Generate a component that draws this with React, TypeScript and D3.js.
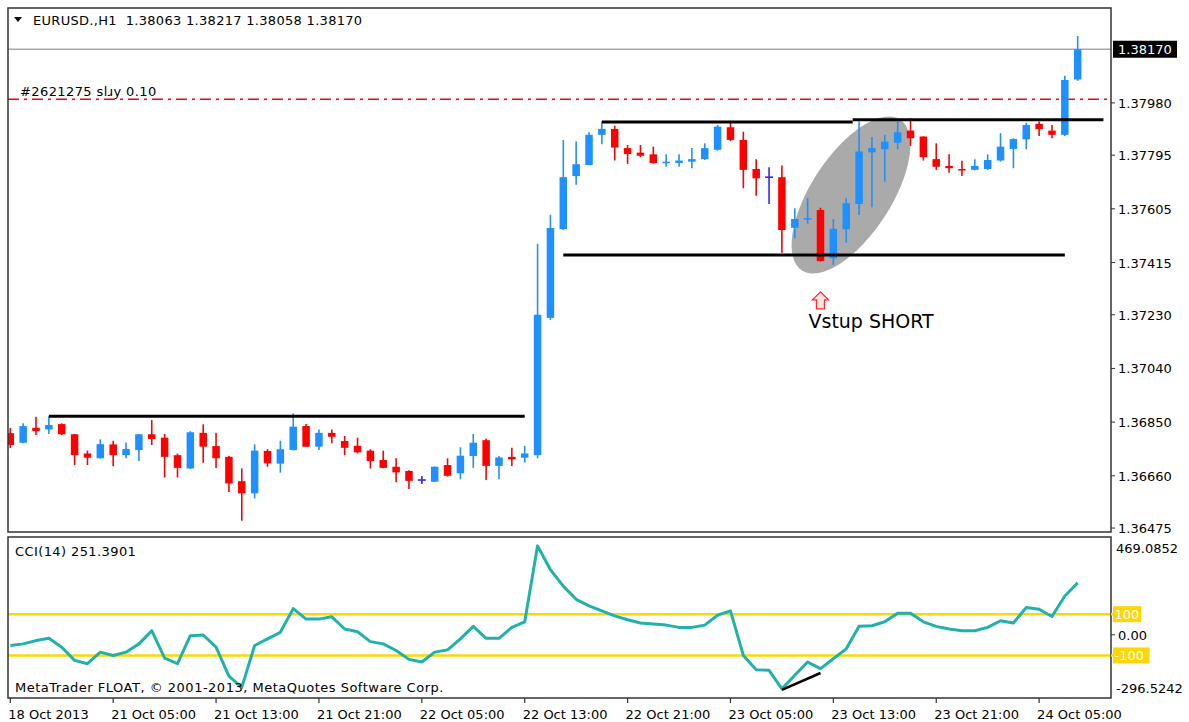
import React from "react";
import * as d3 from "d3";

// EURUSD H1 bars, left to right
const opens = [
  1.36811, 1.36777, 1.3683, 1.36824, 1.36843, 1.36807, 1.36739, 1.36722, 1.36771, 1.36733,
  1.36751, 1.36807, 1.36795, 1.36733, 1.36686, 1.36812, 1.36765, 1.36727, 1.36641, 1.36598,
  1.36748, 1.36703, 1.36751, 1.36836, 1.36763, 1.36812, 1.36783, 1.36766, 1.36749, 1.36716,
  1.36692, 1.36677, 1.36645, 1.36639, 1.36698, 1.36669, 1.3673, 1.36786, 1.36695, 1.36727,
  1.36724, 1.36733, 1.37219, 1.37533, 1.37721, 1.3776, 1.37867, 1.37888, 1.3782, 1.37804,
  1.37798, 1.37767, 1.37767, 1.37772, 1.37781, 1.37814, 1.37894, 1.37849, 1.37746, 1.37717,
  1.37717, 1.37538, 1.37568, 1.37601, 1.3743, 1.37533, 1.37622, 1.37805, 1.37816, 1.37839,
  1.37882, 1.37861, 1.37781, 1.37757, 1.37746, 1.37743, 1.37746, 1.37776, 1.37817, 1.37851,
  1.37906, 1.37882, 1.37867, 1.38063,
];
const highs = [
  1.36829, 1.36846, 1.36869, 1.36871, 1.36846, 1.36808, 1.36749, 1.36789, 1.36784, 1.36778,
  1.36808, 1.36857, 1.36808, 1.36739, 1.36818, 1.36842, 1.36812, 1.3673, 1.36686, 1.36771,
  1.36754, 1.36784, 1.36881, 1.36843, 1.36824, 1.36824, 1.36801, 1.36795, 1.36754, 1.36749,
  1.36722, 1.3668, 1.36659, 1.36693, 1.36722, 1.36761, 1.36808, 1.36792, 1.3673, 1.36759,
  1.36766, 1.37481, 1.37584, 1.37849, 1.37843, 1.37876, 1.37914, 1.37899, 1.37831, 1.37831,
  1.37825, 1.37798, 1.37798, 1.3782, 1.37837, 1.37902, 1.37917, 1.37878, 1.37781, 1.37752,
  1.37758, 1.37607, 1.37643, 1.37609, 1.37569, 1.37643, 1.37914, 1.37859, 1.37867, 1.37914,
  1.37926, 1.37862, 1.37837, 1.37798, 1.37775, 1.37781, 1.37798, 1.37873, 1.37855, 1.3791,
  1.37914, 1.37902, 1.38076, 1.38217,
];
const lows = [
  1.36758, 1.36775, 1.36804, 1.36808, 1.36804, 1.36698, 1.36698, 1.36721, 1.36694, 1.36722,
  1.36712, 1.36769, 1.36654, 1.36654, 1.36684, 1.36706, 1.36688, 1.36603, 1.36501, 1.3658,
  1.36692, 1.36671, 1.3675, 1.36762, 1.36751, 1.36775, 1.36733, 1.36739, 1.36686, 1.36687,
  1.36637, 1.36613, 1.36631, 1.36638, 1.36657, 1.36648, 1.36688, 1.36645, 1.36648, 1.36695,
  1.36707, 1.36722, 1.37212, 1.37531, 1.3769, 1.37759, 1.37834, 1.37776, 1.37764, 1.37788,
  1.37766, 1.37754, 1.37754, 1.37749, 1.37778, 1.37811, 1.37845, 1.37678, 1.37651, 1.37622,
  1.3745, 1.37501, 1.37552, 1.37418, 1.37406, 1.37485, 1.37583, 1.37611, 1.37701, 1.37816,
  1.37828, 1.37776, 1.37743, 1.37733, 1.37721, 1.37742, 1.37743, 1.37772, 1.37749, 1.37816,
  1.37863, 1.37855, 1.37863, 1.38058,
];
const closes = [
  1.36769, 1.36836, 1.36818, 1.3684, 1.36807, 1.36733, 1.36724, 1.36772, 1.36733, 1.36755,
  1.36807, 1.3679, 1.36727, 1.36688, 1.36814, 1.36763, 1.36722, 1.36633, 1.36598, 1.36749,
  1.36704, 1.36754, 1.36834, 1.36763, 1.36812, 1.36798, 1.36759, 1.36743, 1.36712, 1.36688,
  1.36672, 1.36642, 1.36645, 1.36692, 1.3666, 1.36731, 1.36777, 1.36695, 1.36725, 1.36718,
  1.36739, 1.3723, 1.37537, 1.37717, 1.37763, 1.37867, 1.37888, 1.37822, 1.37799, 1.37793,
  1.37767, 1.37772, 1.37776, 1.37781, 1.3782, 1.37896, 1.37849, 1.37743, 1.37713, 1.37717,
  1.3753, 1.37569, 1.37572, 1.3742, 1.37534, 1.37625, 1.37808, 1.3782, 1.37843, 1.37876,
  1.37855, 1.37788, 1.37754, 1.37749, 1.37743, 1.37757, 1.37778, 1.37825, 1.37852, 1.37902,
  1.37887, 1.37867, 1.38061, 1.3817,
];

const cciValues = [
  -52, -44, -28, -17, -60, -124, -140, -84, -100, -84,
  -44, 20, -113, -140, -4, -1, -60, -200, -255, -52,
  -20, 12, 127, 76, 76, 87, 28, 15, -33, -44,
  -76, -119, -132, -84, -73, -20, 41, -17, -17, 36,
  63, 431, 315, 236, 172, 140, 116, 92, 73, 57,
  52, 47, 36, 36, 47, 95, 116, -100, -169, -172,
  -262, -196, -132, -164, -116, -68, 41, 44, 63, 105,
  105, 63, 41, 28, 20, 20, 36, 68, 57, 132,
  124, 89, 188, 251.3901,
];

const priceTicks = [1.36475, 1.3666, 1.3685, 1.3704, 1.3723, 1.37415, 1.37605, 1.37795, 1.3798];
const timeLabels = [
  "18 Oct 2013", "21 Oct 05:00", "21 Oct 13:00", "21 Oct 21:00", "22 Oct 05:00", "22 Oct 13:00",
  "22 Oct 21:00", "23 Oct 05:00", "23 Oct 13:00", "23 Oct 21:00", "24 Oct 05:00",
];
const cciLevels = [100, -100];

// hand-drawn levels: [fromBar, toBar, price]
const levelLines = [
  [3, 40, 1.36871],
  [43, 82, 1.37442],
  [46, 65.5, 1.37912],
  [65.5, 85, 1.3792],
];
const orderPrice = 1.37993;
const bidPrice = 1.3817;

const FONT = "Tahoma, 'DejaVu Sans', sans-serif";
const LS = 0.4; // letter spacing for in-chart captions

export default function App() {
  const L = 8, R = 1111;
  const mainTop = 8, mainBottom = 532;
  const cciTop = 537, cciBottom = 698;

  const x = d3.scaleLinear().domain([0, 83]).range([10.3, 1077.7]);
  const y = d3.scaleLinear().domain([1.36461, 1.38316]).range([mainBottom, mainTop]);
  const yc = d3.scaleLinear().domain([-296.5242, 469.0852]).range([696, 538]);

  const cciLine = d3
    .line<number>()
    .x((_, i) => x(i))
    .y((d) => yc(d));

  const bars = opens.map((o, i) => ({ o, h: highs[i], l: lows[i], c: closes[i] }));

  const ellCx = x(65.37);
  const ellCy = y(1.37654);
  const arrX = x(63);
  const arrY = y(1.37311);

  return (
    <div style={{ position: "absolute", left: 0, top: 0 }}>
      <svg width={1189} height={722} style={{ display: "block", background: "#fff" }} fontFamily={FONT}>
        <defs>
          <clipPath id="mainClip">
            <rect x={L} y={mainTop} width={R - L} height={mainBottom - mainTop} />
          </clipPath>
          <clipPath id="cciClip">
            <rect x={L} y={cciTop} width={R - L} height={cciBottom - cciTop} />
          </clipPath>
        </defs>

        {/* header */}
        <path d="M14,17 L22,17 L18,22 Z" fill="#000" />
        <text x={33} y={25} fontSize={13} letterSpacing={0.3} fill="#000" style={{ whiteSpace: "pre" }}>
          {"EURUSD.,H1  1.38063 1.38217 1.38058 1.38170"}
        </text>

        <g clipPath="url(#mainClip)">
          <line x1={L} x2={R} y1={y(bidPrice)} y2={y(bidPrice)} stroke="#9fa9b3" strokeWidth={1.5} />
          <line
            x1={L}
            x2={R}
            y1={y(orderPrice)}
            y2={y(orderPrice)}
            stroke="#ff0000"
            strokeWidth={1.6}
            strokeDasharray="11 5 3 5"
          />
          <text x={20} y={96} fontSize={13} letterSpacing={LS} fill="#000">
            #2621275 slɹy 0.10
          </text>

          <ellipse
            cx={ellCx}
            cy={ellCy}
            rx={90}
            ry={40}
            fill="#aaaaaa"
            transform={`rotate(-57 ${ellCx} ${ellCy})`}
          />

          {bars.map((b, i) => {
            const cx = x(i);
            const doji = b.o === b.c;
            const color = doji ? "#2b2bff" : b.c > b.o ? "#1e90ff" : "#ff0000";
            const top = y(Math.max(b.o, b.c));
            const bot = y(Math.min(b.o, b.c));
            return (
              <g key={i}>
                <line x1={cx} x2={cx} y1={y(b.h)} y2={y(b.l)} stroke={color} strokeWidth={1.6} />
                {doji ? (
                  <line x1={cx - 4} x2={cx + 4} y1={top} y2={top} stroke={color} strokeWidth={1.6} />
                ) : (
                  <rect x={cx - 3.75} y={top} width={7.5} height={Math.max(bot - top, 1.5)} fill={color} />
                )}
              </g>
            );
          })}

          {levelLines.map(([a, b, p], i) => (
            <line key={i} x1={x(a)} x2={x(b)} y1={y(p)} y2={y(p)} stroke="#000" strokeWidth={3} />
          ))}

          <path
            d={`M${arrX},${arrY} l8,8 h-4 v9 h-8 v-9 h-4 Z`}
            fill="#ffe4e4"
            stroke="#ff2a2a"
            strokeWidth={1.3}
          />
          <text x={arrX - 12} y={arrY + 36} fontSize={19} fill="#000">
            Vstup SHORT
          </text>
        </g>

        {/* main frame */}
        <rect x={L} y={mainTop} width={R - L} height={mainBottom - mainTop} fill="none" stroke="#333" strokeWidth={1.5} />
        {priceTicks.map((p) => (
          <g key={p}>
            <line x1={R} x2={R + 4} y1={y(p)} y2={y(p)} stroke="#333" />
            <text x={1118} y={y(p) + 5} fontSize={13} fill="#000">
              {p.toFixed(5)}
            </text>
          </g>
        ))}
        <rect x={1113} y={y(bidPrice) - 8.5} width={64} height={17} fill="#000" />
        <text x={1118} y={y(bidPrice) + 5} fontSize={13} fill="#fff">
          {bidPrice.toFixed(5)}
        </text>

        {/* CCI panel */}
        <g clipPath="url(#cciClip)">
          {cciLevels.map((v) => (
            <line key={v} x1={L} x2={R} y1={yc(v)} y2={yc(v)} stroke="#ffd700" strokeWidth={2.5} />
          ))}
          <path
            d={cciLine(cciValues) ?? ""}
            fill="none"
            stroke="#20b2aa"
            strokeWidth={3}
            strokeLinejoin="round"
          />
          <line
            x1={x(60)}
            y1={yc(-267)}
            x2={x(63)}
            y2={yc(-185)}
            stroke="#000"
            strokeWidth={2.5}
          />
          <text x={15} y={556} fontSize={13} letterSpacing={LS} fill="#000">
            CCI(14) {cciValues[cciValues.length - 1].toFixed(4)}
          </text>
          <text x={15} y={692} fontSize={13} letterSpacing={0.5} fill="#000">
            MetaTrader FLOAT, © 2001-2013, MetaQuotes Software Corp.
          </text>
        </g>
        <rect x={L} y={cciTop} width={R - L} height={cciBottom - cciTop} fill="none" stroke="#333" strokeWidth={1.5} />

        <text x={1116} y={553} fontSize={13} fill="#000">469.0852</text>
        <line x1={R} x2={R + 4} y1={yc(0)} y2={yc(0)} stroke="#333" />
        <text x={1118} y={yc(0) + 5} fontSize={13} fill="#000">0.00</text>
        <text x={1116} y={693} fontSize={13} fill="#000">-296.5242</text>
        {cciLevels.map((v) => {
          const label = String(v);
          const w = label.length * 8.4 + 3;
          return (
            <g key={v}>
              <line x1={R} x2={1113} y1={yc(v)} y2={yc(v)} stroke="#ffd700" strokeWidth={2.5} />
              <rect x={1113} y={yc(v) - 8} width={w} height={16} fill="#ffd700" />
              <text x={1114.5} y={yc(v) + 5} fontSize={13} fill="#fff">
                {label}
              </text>
            </g>
          );
        })}

        {/* time axis */}
        {timeLabels.map((t, k) => {
          const tx = x(k * 8);
          return (
            <g key={t}>
              <line x1={tx} x2={tx} y1={cciBottom} y2={cciBottom + 5} stroke="#333" strokeWidth={1.2} />
              <text x={tx - 2} y={719} fontSize={13} fill="#000">
                {t}
              </text>
            </g>
          );
        })}
      </svg>
    </div>
  );
}
